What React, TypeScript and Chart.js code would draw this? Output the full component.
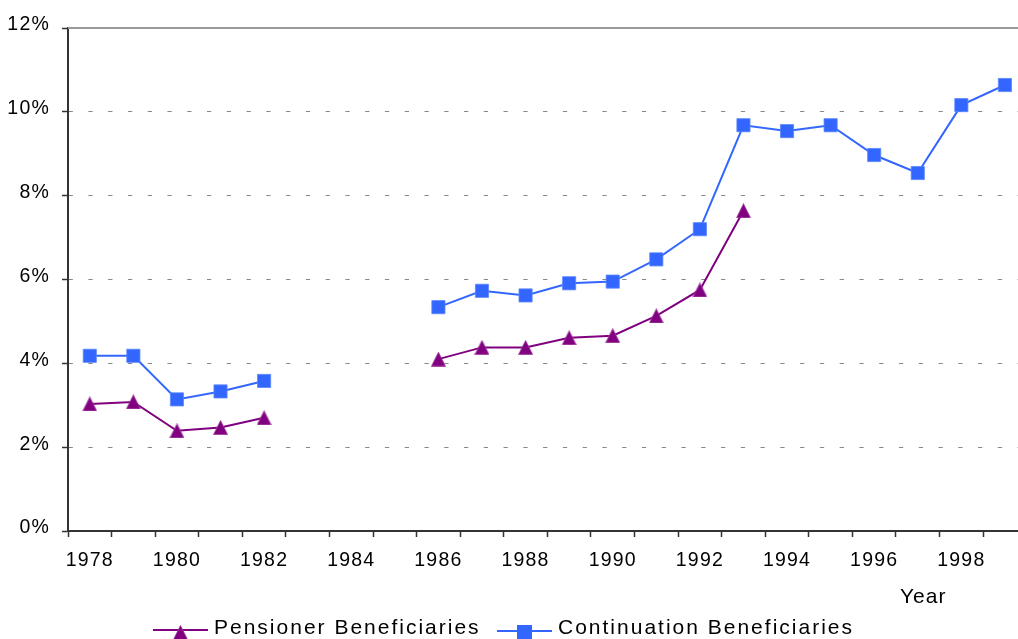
import { useEffect, useRef } from 'react';
import { Chart, registerables } from 'chart.js';

Chart.register(...registerables);

const YEARS = [1978, 1979, 1980, 1981, 1982, 1983, 1984, 1985, 1986, 1987, 1988, 1989, 1990, 1991, 1992, 1993, 1994, 1995, 1996, 1997, 1998, 1999];
const TICK_LABELS = ['1978', '1980', '1982', '1984', '1986', '1988', '1990', '1992', '1994', '1996', '1998'];
const PENSIONER = [3.03, 3.08, 2.39, 2.47, 2.70, null, null, null, 4.10, 4.38, 4.38, 4.61, 4.66, 5.13, 5.75, 7.64, null, null, null, null, null, null];
const CONTINUATION = [4.18, 4.18, 3.14, 3.33, 3.58, null, null, null, 5.34, 5.73, 5.62, 5.91, 5.95, 6.48, 7.20, 9.68, 9.54, 9.68, 8.97, 8.54, 10.16, 10.64];
const SERIES_NAMES = ['Pensioner Beneficiaries', 'Continuation Beneficiaries'];
const X_TITLE = 'Year';

const PURPLE = '#800080';
const BLUE = '#3366FF';
const FONT = '"Liberation Sans", Arial, sans-serif';

function makeTriangle(): HTMLCanvasElement {
  const c = document.createElement('canvas');
  c.width = 15;
  c.height = 15;
  const g = c.getContext('2d')!;
  g.fillStyle = PURPLE;
  g.strokeStyle = 'rgba(160,60,160,0.8)';
  g.lineWidth = 1;
  g.beginPath();
  g.moveTo(7.5, 0.5);
  g.lineTo(14.5, 14.5);
  g.lineTo(0.5, 14.5);
  g.closePath();
  g.fill();
  g.stroke();
  return c;
}

const decorPlugin = {
  id: 'decor',
  beforeUpdate(chart: any) {
    chart.ctx.letterSpacing = '1.2px';
  },
  beforeDraw(chart: any) {
    chart.ctx.letterSpacing = '1.2px';
  },
  afterDraw(chart: any) {
    const { ctx, chartArea } = chart;
    const tri = chart.$tri as HTMLCanvasElement;
    ctx.save();
    // top frame line
    ctx.strokeStyle = '#999999';
    ctx.lineWidth = 2;
    ctx.beginPath();
    ctx.moveTo(chartArea.left, chartArea.top);
    ctx.lineTo(chartArea.right, chartArea.top);
    ctx.stroke();

    // axis title
    ctx.fillStyle = '#000';
    ctx.textAlign = 'left';
    ctx.textBaseline = 'alphabetic';
    ctx.letterSpacing = '1px';
    ctx.font = `21px ${FONT}`;
    ctx.fillText(X_TITLE, 900, 603);

    // legend
    ctx.letterSpacing = '2px';
    ctx.font = `21px ${FONT}`;
    // Pensioner
    ctx.strokeStyle = PURPLE;
    ctx.lineWidth = 2;
    ctx.beginPath();
    ctx.moveTo(153, 630);
    ctx.lineTo(208, 630);
    ctx.stroke();
    if (tri) ctx.drawImage(tri, 173, 625);
    ctx.fillStyle = '#000';
    ctx.fillText(SERIES_NAMES[0], 214, 634);
    // Continuation
    ctx.strokeStyle = BLUE;
    ctx.beginPath();
    ctx.moveTo(497, 631);
    ctx.lineTo(552, 631);
    ctx.stroke();
    ctx.fillStyle = BLUE;
    ctx.fillRect(517, 625, 15, 15);
    ctx.fillStyle = '#000';
    ctx.fillText(SERIES_NAMES[1], 558, 634);
    ctx.restore();
  },
};

export default function App() {
  const ref = useRef<HTMLCanvasElement>(null);
  useEffect(() => {
    if (!ref.current) return;
    const tri = makeTriangle();
    const chart: any = new Chart(ref.current, {
      type: 'line',
      data: {
        datasets: [
          {
            label: SERIES_NAMES[0],
            data: YEARS.map((yr, i) => ({ x: yr, y: PENSIONER[i] })),
            borderColor: PURPLE,
            backgroundColor: PURPLE,
            borderWidth: 2,
            pointStyle: tri,
            pointRadius: 7.5,
            spanGaps: false,
            tension: 0,
          },
          {
            label: SERIES_NAMES[1],
            data: YEARS.map((yr, i) => ({ x: yr, y: CONTINUATION[i] })),
            borderColor: BLUE,
            backgroundColor: BLUE,
            borderWidth: 2,
            pointStyle: 'rect',
            pointRadius: 9.3,
            pointBackgroundColor: BLUE,
            pointBorderColor: 'rgba(90,135,255,0.8)',
            pointBorderWidth: 1,
            spanGaps: false,
            tension: 0,
          },
        ],
      },
      options: {
        responsive: false,
        animation: false,
        devicePixelRatio: 1,
        layout: { autoPadding: false, padding: { top: 28, bottom: 68, left: 0, right: 0 } },
        plugins: { legend: { display: false }, tooltip: { enabled: false } },
        scales: {
          x: {
            type: 'linear',
            min: 1977.5,
            max: 1999.3,
            offset: false,
            afterBuildTicks: (s: any) => {
              s.ticks = YEARS.map((v) => ({ value: v }));
            },
            afterFit: (s: any) => {
              s.height = 40;
            },
            ticks: {
              autoSkip: false,
              maxRotation: 0,
              padding: 12,
              color: '#000',
              font: { family: FONT, size: 19.5 },
              callback: (v: any) => (TICK_LABELS.includes(String(v)) ? String(v) : ''),
            },
            grid: {
              offset: true,
              drawOnChartArea: false,
              drawTicks: true,
              tickLength: 6,
              tickColor: '#333',
              tickWidth: 1.5,
            },
            border: { display: true, color: '#333', width: 2 },
          },
          y: {
            min: 0,
            max: 12,
            afterFit: (s: any) => {
              s.width = 68;
            },
            ticks: {
              stepSize: 2,
              padding: 12,
              labelOffset: -3,
              color: '#000',
              font: { family: FONT, size: 19.5 },
              callback: (v: any) => `${v}%`,
            },
            grid: {
              drawOnChartArea: true,
              drawTicks: true,
              tickLength: 6,
              tickColor: '#333',
              tickWidth: 1.5,
              lineWidth: 1,
              color: (c: any) => (c.tick && (c.tick.value === 0 || c.tick.value === 12) ? 'transparent' : '#888888'),
            },
            border: { display: true, color: '#333', width: 2, dash: [4.3, 15.47], dashOffset: 0.4 },
          },
        },
      },
      plugins: [
        {
          id: 'triRef',
          beforeInit(c: any) {
            c.$tri = tri;
          },
        },
        decorPlugin,
      ],
    } as any);
    return () => chart.destroy();
  }, []);
  return (
    <div style={{ position: 'absolute', left: 0, top: 0, width: 1018, height: 639, background: '#fff' }}>
      <canvas ref={ref} width={1018} height={639} style={{ display: 'block' }} />
    </div>
  );
}
